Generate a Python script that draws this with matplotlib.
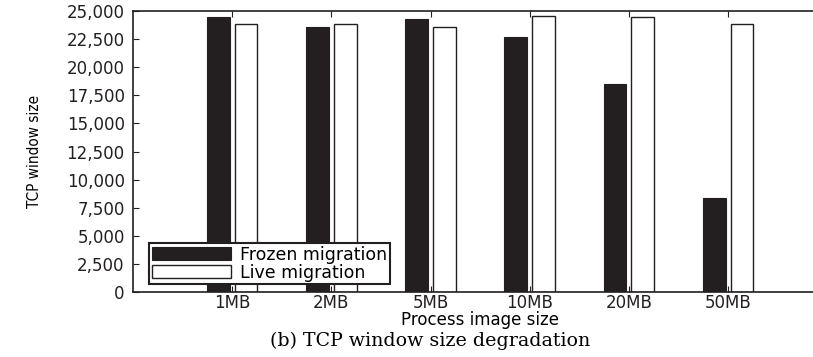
import numpy as np
from matplotlib import pyplot as plt

sizes = ['1MB', '2MB', '5MB', '10MB', '20MB', '50MB']
frozen = [24490, 23550, 24290, 22710, 18530, 8340]
live = [23840, 23820, 23580, 24580, 24490, 23810]
yticks = [0, 2500, 5000, 7500, 10000, 12500, 15000, 17500, 20000, 22500, 25000]

fig = plt.figure(figsize=(8.13, 3.57), dpi=100)
# axes run a little past the right edge, so the right spine is not drawn
ax = fig.add_axes([0.1636, 0.182, 0.854, 0.787])

x = np.arange(1, len(sizes) + 1)
w = 0.23
ax.bar(x - 0.14, frozen, w, color='#231f20', edgecolor='#231f20', linewidth=0.8,
       label='Frozen migration')
ax.bar(x + 0.14, live, w, color='white', edgecolor='#231f20', linewidth=1.0,
       label='Live migration')

ax.set_xlim(0, 7)
ax.set_ylim(0, 25000)
ax.set_xticks(x)
ax.set_xticklabels(sizes)
ax.set_yticks(yticks)
ax.set_yticklabels(['{:,}'.format(v) for v in yticks])
ax.tick_params(direction='in', length=4, width=0.8, top=True, labelsize=12,
               colors='#231f20')
ax.tick_params(axis='y', pad=6)
ax.tick_params(axis='x', pad=1.5)
for s in ax.spines.values():
    s.set_linewidth(1.2)
    s.set_color('#231f20')

ax.set_xlabel('Process image size', fontsize=12, labelpad=-1)
ax.set_ylabel('TCP window size', fontsize=11, fontstretch='condensed', labelpad=18)

leg = ax.legend(loc='lower left', bbox_to_anchor=(0.023, 0.028), fontsize=12.5,
                handlelength=4.6, handleheight=0.75, handletextpad=0.5,
                labelspacing=0.0, borderpad=0.15, borderaxespad=0,
                fancybox=False, framealpha=1)
leg.get_frame().set_edgecolor('#231f20')
leg.get_frame().set_linewidth(1.5)

fig.text(0.529, 0.045, '(b) TCP window size degradation', ha='center', va='center',
         family='DejaVu Serif', fontsize=13.7)

fig.savefig('out.png', dpi=100)
